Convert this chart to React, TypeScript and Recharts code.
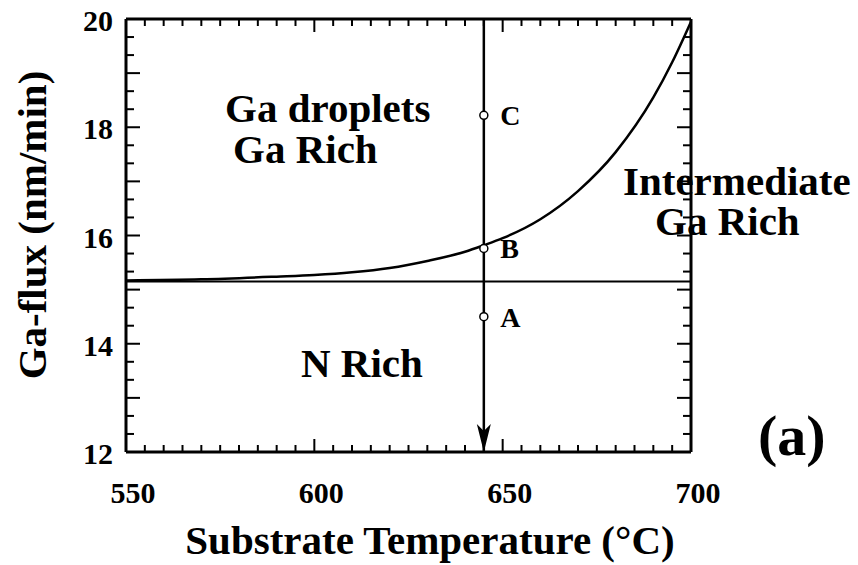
import {
  ComposedChart,
  Line,
  Scatter,
  XAxis,
  YAxis,
  ReferenceLine,
  ReferenceDot,
  LabelList,
} from "recharts";

// Boundary between the Ga-droplet and intermediate regimes
const temps = [550, 570, 590, 600, 610, 620, 630, 640, 645, 650, 660, 670, 680, 690, 695, 700];
const fluxes = [15.17, 15.19, 15.24, 15.27, 15.32, 15.4, 15.53, 15.7, 15.82, 15.95, 16.3, 16.82, 17.54, 18.55, 19.2, 19.95];

// N-rich / Ga-rich transition flux
const nRichLimit = 15.15;

// Growth conditions sampled along the arrow
const sampleTemp = 645;
const sampleNames = ["C", "B", "A"];
const sampleFlux = [18.22, 15.76, 14.5];

const xTicks = [550, 600, 650, 700];
const yTicks = [12, 14, 16, 18, 20];

const curve = temps.map((t, i) => ({ temp: t, flux: fluxes[i] }));
const samples = sampleNames.map((name, i) => ({ temp: sampleTemp, flux: sampleFlux[i], name }));

// minor ticks: every 5 °C and every 1/3 nm/min
const xMinor: number[] = [];
for (let t = 550; t <= 700; t += 5) xMinor.push(t);
const yMinor: number[] = [];
for (let k = 0; k <= 24; k++) yMinor.push(12 + k / 3);

const FONT = '"Liberation Serif", "Times New Roman", serif';
const W = 858;
const H = 565;

const isInt = (v: number) => Math.abs(v - Math.round(v)) < 1e-6;

// all ticks point into the plot frame
const bottomTick = (p: any) => {
  const { x, y, payload } = p;
  const v = payload.value;
  const len = v % 50 === 0 ? 13 : 7;
  return (
    <g key={`b-${v}`}>
      <path d={`M${x},${y}V${y - len}`} stroke="#000" strokeWidth={2} fill="none" />
      {xTicks.includes(v) && (
        <text x={x + 7} y={y + 51} textAnchor="middle" fontFamily={FONT} fontWeight="bold" fontSize={30} fill="#000">
          {v}
        </text>
      )}
    </g>
  );
};

const topTick = (p: any) => {
  const { x, y, payload } = p;
  const len = payload.value % 50 === 0 ? 13 : 7;
  return <path key={`t-${payload.value}`} d={`M${x},${y}V${y + len}`} stroke="#000" strokeWidth={2} fill="none" />;
};

const leftTick = (p: any) => {
  const { x, y, payload } = p;
  const v = payload.value;
  const major = isInt(v);
  const labelled = major && yTicks.includes(Math.round(v));
  return (
    <g key={`l-${v}`}>
      <path d={`M${x},${y}H${x + (major ? 14 : 8)}`} stroke="#000" strokeWidth={2} fill="none" />
      {labelled && (
        <text x={x - 13} y={y + 12} textAnchor="end" fontFamily={FONT} fontWeight="bold" fontSize={30} fill="#000">
          {Math.round(v)}
        </text>
      )}
    </g>
  );
};

const rightTick = (p: any) => {
  const { x, y, payload } = p;
  const len = isInt(payload.value) ? 14 : 8;
  return <path key={`r-${payload.value}`} d={`M${x},${y}H${x - len}`} stroke="#000" strokeWidth={2} fill="none" />;
};

const SampleDot = ({ cx, cy }: any) => (
  <circle cx={cx} cy={cy} r={4} fill="#fff" stroke="#000" strokeWidth={1.5} />
);

const ArrowHead = ({ cx, cy }: any) => (
  <path d={`M${cx},${cy} L${cx - 7},${cy - 28} L${cx},${cy - 21} L${cx + 7},${cy - 28} Z`} fill="#000" />
);

const textStyle = {
  fontFamily: FONT,
  fontWeight: "bold" as const,
  fontSize: 41,
  fill: "#000",
};

const axisLine = { stroke: "#000", strokeWidth: 3 };

const App = () => {
  return (
    <div style={{ position: "absolute", left: 0, top: 0, width: W, height: H, background: "#fff" }}>
      <ComposedChart
        width={W}
        height={H}
        data={curve}
        margin={{ top: 9, right: 157, bottom: 53, left: 46 }}
      >
        <XAxis
          dataKey="temp"
          type="number"
          domain={[550, 700]}
          ticks={xMinor}
          interval={0}
          height={60}
          tickSize={0}
          tickMargin={0}
          tickLine={false}
          axisLine={axisLine}
          tick={bottomTick}
        />
        <XAxis
          xAxisId="top"
          dataKey="temp"
          orientation="top"
          type="number"
          domain={[550, 700]}
          ticks={xMinor}
          interval={0}
          height={10}
          tickSize={0}
          tickMargin={0}
          tickLine={false}
          axisLine={axisLine}
          tick={topTick}
        />
        <YAxis
          type="number"
          domain={[12, 20]}
          ticks={yMinor}
          interval={0}
          width={80}
          tickSize={0}
          tickMargin={0}
          tickLine={false}
          axisLine={axisLine}
          tick={leftTick}
        />
        <YAxis
          yAxisId="right"
          orientation="right"
          type="number"
          domain={[12, 20]}
          ticks={yMinor}
          interval={0}
          width={10}
          tickSize={0}
          tickMargin={0}
          tickLine={false}
          axisLine={axisLine}
          tick={rightTick}
        />
        <ReferenceLine y={nRichLimit} stroke="#000" strokeWidth={2} />
        <ReferenceLine x={sampleTemp} stroke="#000" strokeWidth={2.5} />
        <ReferenceDot x={sampleTemp} y={12} r={0} shape={<ArrowHead />} />
        {/* hidden copy so the mirrored top/right axes get a scale */}
        <Line
          xAxisId="top"
          yAxisId="right"
          dataKey="flux"
          stroke="none"
          dot={false}
          legendType="none"
          isAnimationActive={false}
        />
        <Line
          dataKey="flux"
          type="monotone"
          stroke="#000"
          strokeWidth={2.5}
          dot={false}
          isAnimationActive={false}
        />
        <Scatter data={samples} dataKey="flux" shape={<SampleDot />} isAnimationActive={false}>
          <LabelList
            dataKey="name"
            position="right"
            offset={12}
            style={{ fontFamily: FONT, fontWeight: "bold", fontSize: 28, fill: "#000" }}
          />
        </Scatter>
      </ComposedChart>

      <svg width={W} height={H} style={{ position: "absolute", left: 0, top: 0, pointerEvents: "none" }}>
        <text {...textStyle} x={225} y={122}>Ga droplets</text>
        <text {...textStyle} x={233} y={163}>Ga Rich</text>
        <text {...textStyle} x={623} y={195}>Intermediate</text>
        <text {...textStyle} x={655} y={235}>Ga Rich</text>
        <text {...textStyle} x={301} y={377}>N Rich</text>
        <text {...textStyle} fontSize={58} x={758} y={455}>(a)</text>
        <text {...textStyle} x={430} y={554} textAnchor="middle">Substrate Temperature (°C)</text>
        <text {...textStyle} transform="translate(46,225) rotate(-90)" textAnchor="middle">
          Ga-flux (nm/min)
        </text>
      </svg>
    </div>
  );
};

export default App;
